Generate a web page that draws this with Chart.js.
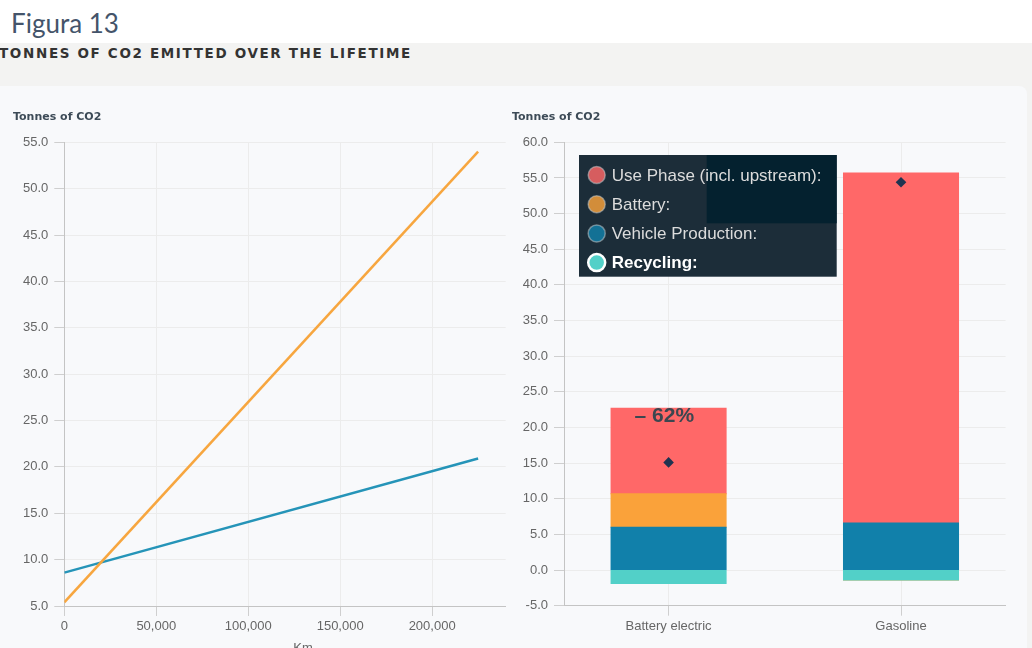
<!DOCTYPE html>
<html>
<head>
<meta charset="utf-8">
<script src="https://cdn.jsdelivr.net/npm/chart.js@4.4.1/dist/chart.umd.min.js"></script>
<style>
  html, body { margin: 0; padding: 0; width: 1032px; height: 648px; overflow: hidden; background: #ffffff; }
  #fig { position: absolute; left: 11px; top: 8px; font: 26px Lato, sans-serif; line-height: 30px; color: #44546a; }
  #band { position: absolute; left: 0; top: 43px; width: 1032px; height: 605px; background: #f3f3f2; }
  #heading { position: absolute; left: -1px; top: 44px; font: bold 13.5px "DejaVu Sans", sans-serif; letter-spacing: 1.65px; line-height: 18px; color: #333333; white-space: nowrap; }
  #panel { position: absolute; left: -10px; top: 86px; width: 1037px; height: 600px; background: #f8f9fb; border-radius: 8px; }
  #leftWrap { position: absolute; left: 0; top: 86px; width: 510px; height: 570px; }
  #rightWrap { position: absolute; left: 510px; top: 86px; width: 522px; height: 570px; }
</style>
</head>
<body>
<div id="fig">Figura 13</div>
<div id="band"></div>
<div id="heading">TONNES OF CO2 EMITTED OVER THE LIFETIME</div>
<div id="panel"></div>
<div id="leftWrap"><canvas id="distanceChart" width="510" height="570"></canvas></div>
<div id="rightWrap"><canvas id="breakdownChart" width="522" height="570"></canvas></div>

<script>
// Cumulative emissions against distance driven
const kmDriven = [0, 225000];
const gasolineCumulative = [5.4, 54.0];
const electricCumulative = [8.6, 20.9];
const kmTicks = [0, 50000, 100000, 150000, 200000];

// Lifetime emissions broken down by source
const vehicleTypes = ['Battery electric', 'Gasoline'];
const usePhase = [12.0, 49.1];
const batteryProduction = [4.7, 0];
const vehicleProduction = [6.0, 6.6];
const recycling = [-1.9, -1.4];
const netMarker = [15.1, 54.4];

const yTitle = 'Tonnes of CO2';
const tickFont = { family: '"Liberation Sans", Arial, sans-serif', size: 13 };
const tickColor = '#666666';
const gridColor = '#ececec';
const tickMarkColor = '#cfcfcf';
const axisColor = '#c4c4c4';

const colors = {
  use: '#ff6868',
  battery: '#faa23a',
  vehicle: '#1180aa',
  recycling: '#52d0c8',
  electricLine: '#2594b8',
  gasolineLine: '#f7a63f',
  marker: '#1f3350'
};

function pairs(xs, ys) { return xs.map((x, i) => ({ x: x, y: ys[i] })); }

// Small text drawn on top of each chart
function textPlugin(items) {
  return {
    id: 'extraText',
    afterDraw(chart) {
      const ctx = chart.ctx;
      ctx.save();
      items.forEach(t => {
        ctx.font = t.font;
        ctx.fillStyle = t.color;
        ctx.textAlign = t.align || 'left';
        ctx.textBaseline = 'middle';
        ctx.fillText(t.text, t.x, t.y);
      });
      ctx.restore();
    }
  };
}

// ---------- left chart ----------
new Chart(document.getElementById('distanceChart'), {
  type: 'line',
  data: {
    datasets: [
      { label: 'Gasoline', data: pairs(kmDriven, gasolineCumulative), borderColor: colors.gasolineLine, borderWidth: 2.5, pointRadius: 0, tension: 0 },
      { label: 'Battery electric', data: pairs(kmDriven, electricCumulative), borderColor: colors.electricLine, borderWidth: 2.5, pointRadius: 0, tension: 0 }
    ]
  },
  options: {
    responsive: false,
    animation: false,
    layout: { padding: { left: 0, top: 56.3, right: 4.3, bottom: 0 } },
    plugins: { legend: { display: false }, tooltip: { enabled: false } },
    scales: {
      x: {
        type: 'linear', min: 0, max: 240000,
        afterBuildTicks: s => { s.ticks = kmTicks.map(v => ({ value: v })); },
        afterFit: s => { s.height = 50; },
        grid: { color: gridColor, tickColor: tickMarkColor, tickLength: 10 },
        border: { color: axisColor },
        ticks: { padding: 3, color: tickColor, font: tickFont, maxRotation: 0, callback: v => Number(v).toLocaleString('en-US') }
      },
      y: {
        min: 5, max: 55,
        afterFit: s => { s.width = 64.3; },
        grid: { color: gridColor, tickColor: tickMarkColor, tickLength: 10 },
        border: { color: axisColor },
        ticks: { stepSize: 5, padding: 6, color: tickColor, font: tickFont, callback: v => Number(v).toFixed(1) }
      }
    }
  },
  plugins: [textPlugin([
    { text: yTitle, x: 13, y: 31.3, font: 'bold 11px "DejaVu Sans", sans-serif', color: '#3d4b57' },
    { text: 'Km', x: 303, y: 562, font: '13px "Liberation Sans", Arial, sans-serif', color: tickColor, align: 'center' }
  ])]
});

// ---------- right chart ----------
const seriesLegend = {
  id: 'seriesLegend',
  afterDraw(chart) {
    const ctx = chart.ctx;
    const x0 = 69, y0 = 69, w = 257.7, h = 121.7;
    ctx.save();
    ctx.fillStyle = '#1c2d39';
    ctx.fillRect(x0, y0, w, h);
    ctx.fillStyle = '#04212f';
    ctx.fillRect(196.7, y0, x0 + w - 196.7, 68.3);
    // top of stack first
    const order = [3, 2, 1, 0];
    order.forEach((di, row) => {
      const ds = chart.data.datasets[di];
      const cy = y0 + 20 + row * 29.2;
      const highlighted = ds.label === 'Recycling';
      ctx.beginPath();
      ctx.arc(86.7, cy, 8.5, 0, Math.PI * 2);
      ctx.globalAlpha = highlighted ? 1 : 0.82;
      ctx.fillStyle = ds.backgroundColor;
      ctx.fill();
      ctx.globalAlpha = 1;
      ctx.lineWidth = highlighted ? 2.5 : 1.5;
      ctx.strokeStyle = highlighted ? '#ffffff' : 'rgba(190,196,200,0.55)';
      ctx.stroke();
      ctx.font = (highlighted ? 'bold ' : '') + '17px "Liberation Sans", Arial, sans-serif';
      ctx.fillStyle = highlighted ? '#ffffff' : '#dcdcdc';
      ctx.textAlign = 'left';
      ctx.textBaseline = 'middle';
      ctx.fillText(ds.label + ':', 101.7, cy + 1);
    });
    ctx.restore();
  }
};

const reductionLabel = {
  id: 'reductionLabel',
  afterDatasetsDraw(chart) {
    const net = vehicleTypes.map((_, i) => usePhase[i] + batteryProduction[i] + vehicleProduction[i] + recycling[i]);
    const pct = Math.round((1 - net[0] / net[1]) * 100);
    const bar = chart.getDatasetMeta(3).data[0];
    const ctx = chart.ctx;
    ctx.save();
    ctx.font = 'bold 21px "Liberation Sans", Arial, sans-serif';
    ctx.fillStyle = '#3c4750';
    ctx.textAlign = 'center';
    ctx.textBaseline = 'middle';
    ctx.fillText('\u2013 ' + pct + '%', bar.x - 4.3, bar.y + 8);
    ctx.restore();
  }
};

const catIdx = vehicleTypes.map((_, i) => i);

new Chart(document.getElementById('breakdownChart'), {
  type: 'bar',
  data: {
    datasets: [
      { label: 'Recycling', data: pairs(catIdx, recycling), backgroundColor: colors.recycling },
      { label: 'Vehicle Production', data: pairs(catIdx, vehicleProduction), backgroundColor: colors.vehicle },
      { label: 'Battery', data: pairs(catIdx, batteryProduction), backgroundColor: colors.battery },
      { label: 'Use Phase (incl. upstream)', data: pairs(catIdx, usePhase), backgroundColor: colors.use },
      { type: 'line', label: 'Net', data: pairs(catIdx, netMarker), showLine: false, pointStyle: 'rectRot', pointRadius: 5.3, backgroundColor: colors.marker, borderColor: colors.marker, borderWidth: 0, order: -1 }
    ]
  },
  options: {
    responsive: false,
    animation: false,
    layout: { padding: { left: 0, top: 56.3, right: 26.4, bottom: 0 } },
    datasets: { bar: { categoryPercentage: 1, barPercentage: 0.495, borderWidth: 0, inflateAmount: 0.5 } },
    plugins: { legend: { display: false }, tooltip: { enabled: false } },
    scales: {
      x: {
        type: 'linear', min: -0.45, max: 1.45, stacked: true, offset: false, bounds: 'data',
        afterBuildTicks: s => { s.ticks = catIdx.map(v => ({ value: v })); },
        afterFit: s => { s.height = 50.3; },
        grid: { color: gridColor, tickColor: tickMarkColor, tickLength: 10, offset: false },
        border: { color: axisColor },
        ticks: { padding: 3, color: tickColor, font: tickFont, maxRotation: 0, callback: v => vehicleTypes[v] }
      },
      y: {
        min: -5, max: 60, stacked: true,
        afterFit: s => { s.width = 54; },
        grid: { color: gridColor, tickColor: tickMarkColor, tickLength: 10 },
        border: { color: axisColor },
        ticks: { stepSize: 5, padding: 6, color: tickColor, font: tickFont, callback: v => Number(v).toFixed(1) }
      }
    }
  },
  plugins: [reductionLabel, seriesLegend, textPlugin([
    { text: yTitle, x: 2, y: 31.3, font: 'bold 11px "DejaVu Sans", sans-serif', color: '#3d4b57' }
  ])]
});
</script>
</body>
</html>
